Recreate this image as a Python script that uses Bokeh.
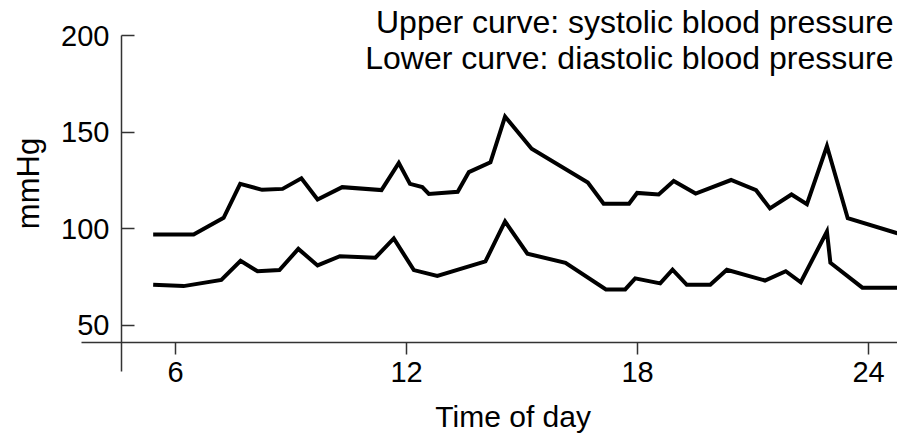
from math import pi
from bokeh.plotting import figure
from bokeh.models import Range1d, FixedTicker, Label, LinearAxis
from bokeh.embed import file_html
from bokeh.resources import INLINE

# ---- data ----
hours_sys = [5.42, 6.47, 7.25, 7.68, 8.25, 8.78, 9.27, 9.69, 10.33, 11.35, 11.80,
             12.09, 12.41, 12.58, 13.33, 13.62, 14.18, 14.56, 15.25, 16.71, 17.12,
             17.78, 17.99, 18.55, 18.94, 19.51, 20.43, 21.08, 21.44, 22.00, 22.40,
             22.92, 23.46, 24.75]
systolic = [96.9, 96.9, 105.6, 123.2, 120.1, 120.6, 126.1, 115.1, 121.5, 120.0, 134.0,
            123.2, 121.5, 118.0, 119.1, 129.3, 134.4, 158.1, 141.4, 123.9, 112.9,
            112.9, 118.5, 117.7, 124.7, 118.2, 125.2, 119.9, 110.5, 117.7, 112.7,
            142.8, 105.4, 97.6]

hours_dia = [5.42, 6.21, 7.19, 7.69, 8.13, 8.70, 9.19, 9.69, 10.27, 11.19, 11.67,
             12.19, 12.80, 14.05, 14.56, 15.14, 16.13, 17.18, 17.68, 17.94, 18.59,
             18.91, 19.28, 19.89, 20.32, 21.31, 21.85, 22.24, 22.92, 23.01, 23.84,
             24.75]
diastolic = [70.9, 70.2, 73.4, 83.3, 77.9, 78.5, 89.5, 80.9, 85.7, 84.9, 94.9,
             78.5, 75.5, 83.0, 103.7, 87.0, 82.3, 68.5, 68.5, 74.2, 71.6,
             78.7, 70.9, 70.9, 78.7, 73.1, 77.9, 72.2, 98.5, 82.3, 69.4,
             69.4]

x_ticks = [6, 12, 18, 24]
y_ticks = [50, 100, 150, 200]

title_upper = "Upper curve: systolic blood pressure"
title_lower = "Lower curve: diastolic blood pressure"
x_title = "Time of day"
y_title = "mmHg"

FONT = "Liberation Sans"

p = figure(width=897, height=436, output_backend="svg", toolbar_location=None,
           x_range=Range1d(1.4545, 24.753), y_range=Range1d(-7.76, 218.26),
           x_axis_type=None, y_axis_type=None,
           min_border_left=0, min_border_right=0, min_border_top=0,
           min_border_bottom=0)
p.title.visible = False
p.outline_line_color = None
p.background_fill_color = "white"
p.border_fill_color = "white"

xaxis = LinearAxis(fixed_location=41.12, bounds=(3.558, 24.753),
                   ticker=FixedTicker(ticks=x_ticks),
                   major_tick_in=0, major_tick_out=12, major_label_standoff=8,
                   axis_line_color="#333333", axis_line_width=1.5,
                   major_tick_line_color="#333333", major_tick_line_width=1.5,
                   major_label_text_font=FONT, major_label_text_font_size="29px",
                   major_label_text_color="black")
p.add_layout(xaxis, "below")

yaxis = LinearAxis(fixed_location=4.597, bounds=(25.93, 200.2),
                   ticker=FixedTicker(ticks=y_ticks),
                   major_tick_in=13, major_tick_out=0, major_label_standoff=12,
                   axis_line_color="#333333", axis_line_width=1.5,
                   major_tick_line_color="#333333", major_tick_line_width=1.5,
                   major_label_text_font=FONT, major_label_text_font_size="29px",
                   major_label_text_color="black")
p.add_layout(yaxis, "left")

p.line(hours_sys, systolic, line_width=4, line_color="black", line_join="miter")
p.line(hours_dia, diastolic, line_width=4, line_color="black", line_join="miter")

p.add_layout(Label(x=24.65, y=207.1, text=title_upper, text_align="right",
                   text_baseline="alphabetic", text_font=FONT,
                   text_font_size="32px", text_color="black"))
p.add_layout(Label(x=24.65, y=188.7, text=title_lower, text_align="right",
                   text_baseline="alphabetic", text_font=FONT,
                   text_font_size="32px", text_color="black"))
p.add_layout(Label(x=14.77, y=2.4, text=x_title, text_align="center",
                   text_baseline="alphabetic", text_font=FONT,
                   text_font_size="30px", text_color="black"))
p.add_layout(Label(x=2.182, y=123.4, text=y_title, text_align="center",
                   text_baseline="alphabetic", angle=pi / 2, text_font=FONT,
                   text_font_size="31px", text_color="black"))

open("out.html", "w").write(file_html(p, INLINE))
